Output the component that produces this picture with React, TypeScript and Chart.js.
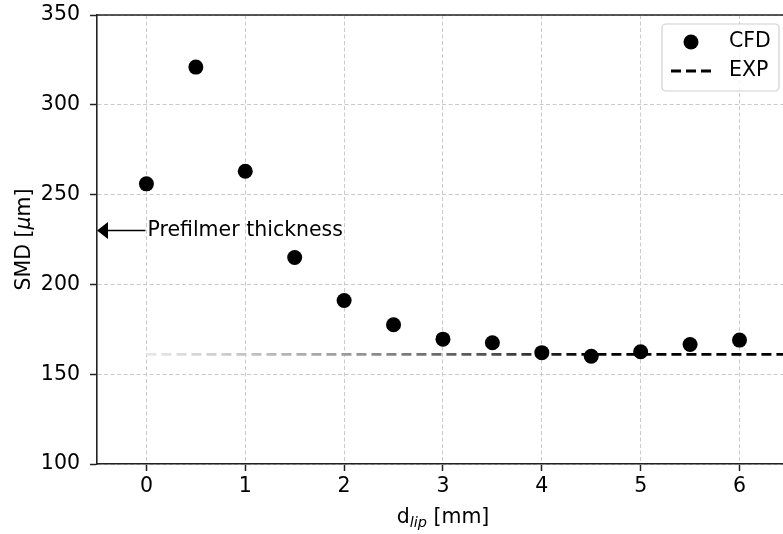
import React, { useEffect, useRef } from "react";
import { Chart, registerables } from "chart.js";

Chart.register(...registerables);

const X_CFD = [0, 0.5, 1, 1.5, 2, 2.5, 3, 3.5, 4, 4.5, 5, 5.5, 6];
const SMD_CFD = [256, 321, 263, 215, 191, 177.5, 169.5, 167.5, 162, 160, 162.5, 166.5, 169];
const X_EXP = [0, 7];
const SMD_EXP = [161, 161];
const X_TICKS = [0, 1, 2, 3, 4, 5, 6];
const Y_TICKS = [100, 150, 200, 250, 300, 350];
const ANNOT_TEXT = "Prefilmer thickness";
const ANNOT_X_TEXT = 0;
const ANNOT_X_TIP = -0.5;
const ANNOT_Y = 230;
const LEGEND_LABELS = ["CFD", "EXP"];
const X_TITLE_MAIN = "d";
const X_TITLE_SUB = "lip";
const X_TITLE_REST = " [mm]";
const Y_TITLE_A = "SMD [";
const Y_TITLE_MU = "\u03bc";
const Y_TITLE_B = "m]";

const FONT = "'DejaVu Sans', sans-serif";
const FS = 20.5;
const GRAD_STOPS: [number, string][] = [
  [0, "#e8e8e8"],
  [1, "#c4c4c4"],
  [2, "#9c9c9c"],
  [3, "#686868"],
  [3.5, "#4e4e4e"],
  [4, "#282828"],
  [4.5, "#000000"],
];

const decorPlugin = {
  id: "decor",
  afterDraw(chart: any) {
    const { ctx, chartArea, scales } = chart;
    const xs = scales.x;
    const ys = scales.y;
    ctx.save();
    // top spine
    ctx.strokeStyle = "#222";
    ctx.lineWidth = 1.6;
    ctx.beginPath();
    ctx.moveTo(chartArea.left - 0.8, chartArea.top);
    ctx.lineTo(chartArea.right + 2, chartArea.top);
    ctx.stroke();

    // annotation
    const ty = ys.getPixelForValue(ANNOT_Y);
    const tipX = xs.getPixelForValue(ANNOT_X_TIP);
    const txtX = xs.getPixelForValue(ANNOT_X_TEXT);
    ctx.fillStyle = "#000";
    ctx.strokeStyle = "#000";
    ctx.lineWidth = 1.6;
    ctx.beginPath();
    ctx.moveTo(tipX + 10, ty);
    ctx.lineTo(txtX - 1, ty);
    ctx.stroke();
    ctx.beginPath();
    ctx.moveTo(tipX, ty);
    ctx.lineTo(tipX + 11, ty - 8.5);
    ctx.lineTo(tipX + 11, ty + 8.5);
    ctx.closePath();
    ctx.fill();
    ctx.font = `${FS}px ${FONT}`;
    ctx.textAlign = "left";
    ctx.textBaseline = "middle";
    ctx.fillText(ANNOT_TEXT, txtX + 1, ty);

    // legend
    const bw = 117, bh = 67;
    const bx = chartArea.right - 4 - bw;
    const by = chartArea.top + 9;
    ctx.beginPath();
    const r = 4;
    ctx.moveTo(bx + r, by);
    ctx.lineTo(bx + bw - r, by);
    ctx.arcTo(bx + bw, by, bx + bw, by + r, r);
    ctx.lineTo(bx + bw, by + bh - r);
    ctx.arcTo(bx + bw, by + bh, bx + bw - r, by + bh, r);
    ctx.lineTo(bx + r, by + bh);
    ctx.arcTo(bx, by + bh, bx, by + bh - r, r);
    ctx.lineTo(bx, by + r);
    ctx.arcTo(bx, by, bx + r, by, r);
    ctx.closePath();
    ctx.fillStyle = "rgba(255,255,255,0.8)";
    ctx.fill();
    ctx.strokeStyle = "#d0d0d0";
    ctx.lineWidth = 1.2;
    ctx.stroke();
    // CFD entry
    ctx.fillStyle = "#000";
    ctx.beginPath();
    ctx.arc(bx + 29, by + 18, 7.5, 0, Math.PI * 2);
    ctx.fill();
    ctx.textBaseline = "middle";
    ctx.fillText(LEGEND_LABELS[0], bx + 67, by + 18);
    // EXP entry
    ctx.strokeStyle = "#000";
    ctx.lineWidth = 2.8;
    ctx.setLineDash([10, 5]);
    ctx.beginPath();
    ctx.moveTo(bx + 9, by + 47);
    ctx.lineTo(bx + 50, by + 47);
    ctx.stroke();
    ctx.setLineDash([]);
    ctx.fillText(LEGEND_LABELS[1], bx + 67, by + 47);

    // x title
    ctx.textBaseline = "alphabetic";
    const mainF = `${FS}px ${FONT}`;
    const subF = `italic 14.5px ${FONT}`;
    ctx.font = mainF;
    const w1 = ctx.measureText(X_TITLE_MAIN).width;
    const w3 = ctx.measureText(X_TITLE_REST).width;
    ctx.font = subF;
    const w2 = ctx.measureText(X_TITLE_SUB).width;
    const total = w1 + w2 + w3;
    const cx = (chartArea.left + chartArea.right) / 2 + 3;
    const x0 = cx - total / 2;
    const base = 523;
    ctx.font = mainF;
    ctx.fillText(X_TITLE_MAIN, x0, base);
    ctx.font = subF;
    ctx.fillText(X_TITLE_SUB, x0 + w1, base + 4);
    ctx.font = mainF;
    ctx.fillText(X_TITLE_REST, x0 + w1 + w2, base);

    // y title
    ctx.save();
    ctx.translate(30, (chartArea.top + chartArea.bottom) / 2);
    ctx.rotate(-Math.PI / 2);
    const muF = `italic ${FS}px ${FONT}`;
    ctx.font = mainF;
    const a = ctx.measureText(Y_TITLE_A).width;
    const c = ctx.measureText(Y_TITLE_B).width;
    ctx.font = muF;
    const b = ctx.measureText(Y_TITLE_MU).width;
    const yx = -(a + b + c) / 2;
    ctx.font = mainF;
    ctx.fillText(Y_TITLE_A, yx, 0);
    ctx.font = muF;
    ctx.fillText(Y_TITLE_MU, yx + a, 0);
    ctx.font = mainF;
    ctx.fillText(Y_TITLE_B, yx + a + b, 0);
    ctx.restore();

    ctx.restore();
  },
};

const zeroPad = (s: any) => {
  s.paddingTop = 0;
  s.paddingBottom = 0;
  s.paddingLeft = 0;
  s.paddingRight = 0;
};

export default function App() {
  const ref = useRef<HTMLCanvasElement | null>(null);
  useEffect(() => {
    document.body.style.margin = "0";
    if (!ref.current) return;
    const chart = new Chart(ref.current, {
      type: "scatter",
      data: {
        datasets: [
          {
            label: LEGEND_LABELS[0],
            data: X_CFD.map((x, i) => ({ x, y: SMD_CFD[i] })),
            backgroundColor: "#000",
            borderWidth: 0,
            pointRadius: 7.5,
            pointHoverRadius: 7.5,
          },
          {
            label: LEGEND_LABELS[1],
            data: X_EXP.map((x, i) => ({ x, y: SMD_EXP[i] })),
            showLine: true,
            pointRadius: 0,
            borderWidth: 2.8,
            borderDash: [10, 5],
            borderColor: (context: any) => {
              const ch = context.chart;
              if (!ch.chartArea) return "#000";
              const xs = ch.scales.x;
              const g = ch.ctx.createLinearGradient(
                xs.getPixelForValue(GRAD_STOPS[0][0]),
                0,
                xs.getPixelForValue(GRAD_STOPS[GRAD_STOPS.length - 1][0]),
                0
              );
              const span = GRAD_STOPS[GRAD_STOPS.length - 1][0] - GRAD_STOPS[0][0];
              GRAD_STOPS.forEach(([v, col]) => g.addColorStop((v - GRAD_STOPS[0][0]) / span, col));
              return g;
            },
          },
        ],
      },
      options: {
        animation: false,
        responsive: false,
        layout: { autoPadding: false, padding: { top: 15, right: 0, left: 0, bottom: 0 } },
        plugins: { legend: { display: false }, tooltip: { enabled: false } },
        scales: {
          x: {
            type: "linear",
            min: -0.5,
            max: 6.44,
            afterBuildTicks: (s: any) => {
              s.ticks = X_TICKS.map((v) => ({ value: v }));
            },
            afterFit: (s: any) => {
              s.height = 70;
              zeroPad(s);
            },
            ticks: {
              font: { family: FONT, size: FS },
              color: "#000",
              padding: 3,
              maxRotation: 0,
              callback: (v: any) => String(v),
            },
            grid: {
              color: "#cacaca",
              lineWidth: 1,
              tickColor: "#222",
              tickWidth: 1.5,
              tickLength: 7,
            },
            border: { display: true, color: "#222", width: 1.6, dash: [4, 2.5] },
          },
          y: {
            type: "linear",
            min: 100,
            max: 350,
            afterBuildTicks: (s: any) => {
              s.ticks = Y_TICKS.map((v) => ({ value: v }));
            },
            afterFit: (s: any) => {
              s.width = 97;
              zeroPad(s);
            },
            ticks: {
              font: { family: FONT, size: FS },
              color: "#000",
              padding: 10,
              callback: (v: any) => String(v),
            },
            grid: {
              color: "#cacaca",
              lineWidth: 1,
              tickColor: "#222",
              tickWidth: 1.5,
              tickLength: 7,
            },
            border: { display: true, color: "#222", width: 1.6, dash: [4, 2.5] },
          },
        },
      },
      plugins: [decorPlugin],
    });
    return () => chart.destroy();
  }, []);
  return (
    <div style={{ width: 783, height: 534 }}>
      <canvas ref={ref} width={783} height={534} style={{ display: "block" }} />
    </div>
  );
}
